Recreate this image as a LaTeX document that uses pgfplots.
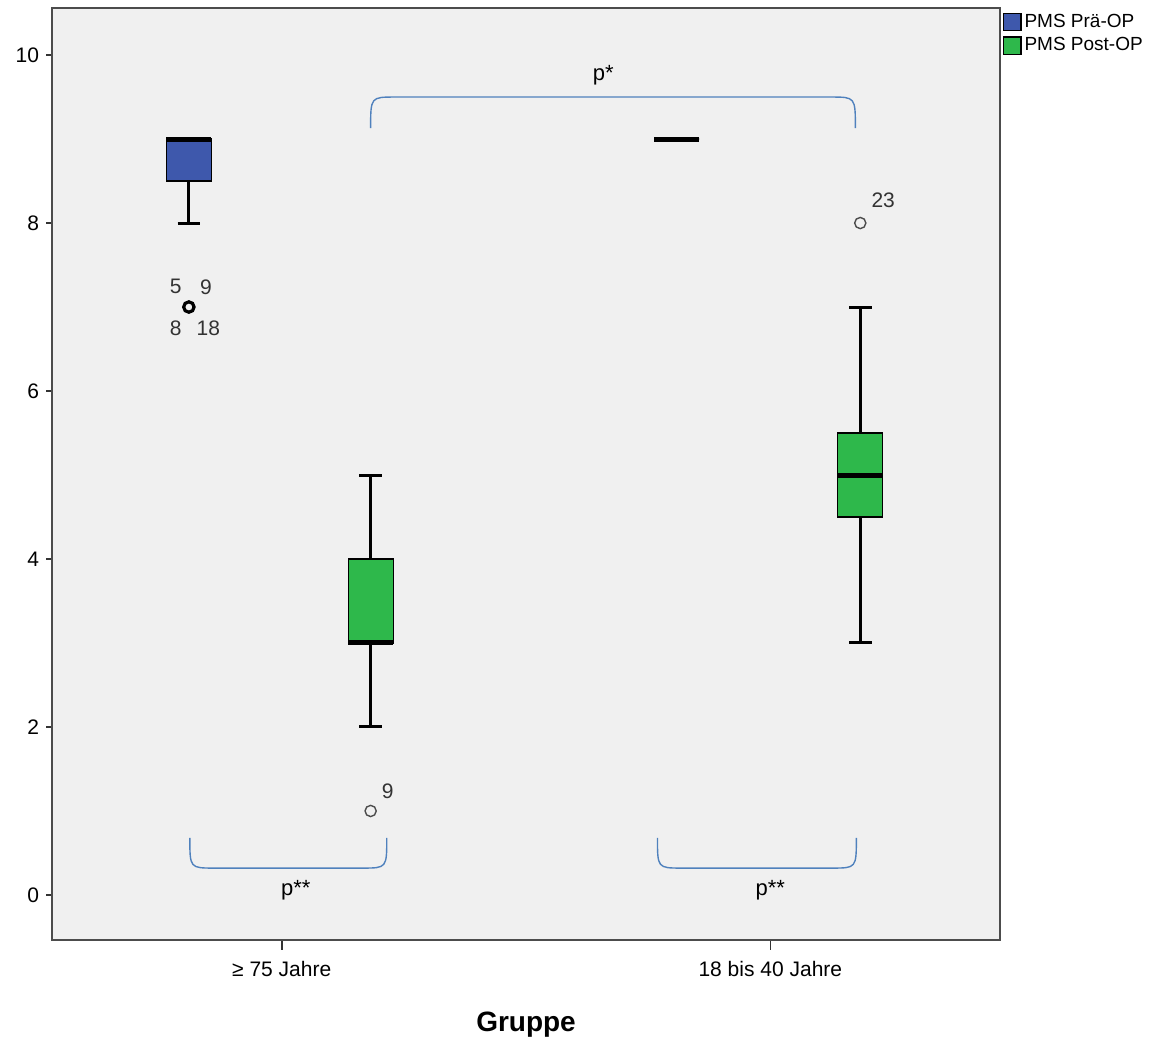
\documentclass[border=0pt]{standalone}
\usepackage{fontspec}
\setmainfont{Liberation Sans}
\usepackage{pgfplots}
\pgfplotsset{compat=1.18}
\usepgfplotslibrary{statistics}
\definecolor{bxblue}{RGB}{62,88,172}
\definecolor{bxgreen}{RGB}{46,184,75}
\definecolor{bgray}{RGB}{240,240,240}
\definecolor{brk}{RGB}{79,129,189}
\begin{document}
\begin{tikzpicture}
\begin{axis}[
  scale only axis, width=474pt, height=466pt,
  xmin=0.53, xmax=2.47, ymin=-0.536, ymax=10.56,
  axis background/.style={fill=bgray},
  axis line style={draw=black!70, line width=0.8pt},
  xtick={1,2}, xticklabels={≥ 75 Jahre, 18 bis 40 Jahre},
  ytick={0,2,4,6,8,10},
  tick align=outside, xtick pos=bottom, ytick pos=left,
  major tick length=3pt,
  tick style={black!80, line width=0.8pt},
  xtick style={/pgfplots/major tick length=5pt},
  ticklabel style={font=\fontsize{10.5}{12}\selectfont},
  xticklabel style={yshift=-4pt},
  /pgf/number format/assume math mode=true,
  clip=false,
  xlabel={Gruppe},
  xlabel style={font=\fontsize{14}{16}\selectfont\bfseries, at={(axis description cs:0.5,-0.091)}, anchor=center},
  boxplot/draw direction=y,
  boxplot/every whisker/.style={line width=1.5pt},
  boxplot/every median/.style={line width=2.5pt},
  boxplot/every box/.style={line width=0.6pt},
  legend image code/.code={\draw[#1, line width=0.6pt] (0cm,-0.15cm) rectangle (0.3cm,0.15cm);},
  legend style={at={(rel axis cs:1.003,0.997)}, anchor=north west, draw=none, fill=none,
    font=\fontsize{9.5}{11}\selectfont, inner sep=0pt, row sep=0.5pt,
    nodes={inner sep=1.5pt}},
  legend cell align=left,
]
\addlegendimage{draw=black, fill=bxblue}
\addlegendentry{PMS Prä-OP}
\addlegendimage{draw=black, fill=bxgreen}
\addlegendentry{PMS Post-OP}

% >= 75, Prae-OP
\addplot[boxplot prepared={draw position=0.81, lower whisker=8, lower quartile=8.5,
  median=9, upper quartile=9, upper whisker=9, box extend=0.092, whisker extend=0.046},
  draw=black, fill=bxblue, mark=o, mark size=2.6pt, mark options={line width=1.6pt, fill=none}, forget plot]
  table[row sep=\\, y index=0] {data\\ 7\\};
% >= 75, Post-OP
\addplot[boxplot prepared={draw position=1.182, lower whisker=2, lower quartile=3,
  median=3, upper quartile=4, upper whisker=5, box extend=0.092, whisker extend=0.046},
  draw=black, fill=bxgreen, mark=o, mark size=2.8pt, mark options={line width=0.7pt, draw=black!70, fill=none}, forget plot]
  table[row sep=\\, y index=0] {data\\ 1\\};
% 18-40, Prae-OP
\addplot[boxplot prepared={draw position=1.808, lower whisker=9, lower quartile=9,
  median=9, upper quartile=9, upper whisker=9, box extend=0.092, whisker extend=0.046},
  draw=black, fill=bxblue, forget plot]
  coordinates {};
% 18-40, Post-OP
\addplot[boxplot prepared={draw position=2.184, lower whisker=3, lower quartile=4.5,
  median=5, upper quartile=5.5, upper whisker=7, box extend=0.092, whisker extend=0.046},
  draw=black, fill=bxgreen, mark=o, mark size=2.8pt, mark options={line width=0.7pt, draw=black!70, fill=none}, forget plot]
  table[row sep=\\, y index=0] {data\\ 8\\};

% outlier labels
\begin{scope}[every node/.style={font=\fontsize{10.5}{12}\selectfont, text=black!80, inner sep=0pt}]
\node at (axis cs:0.783,7.24) {5};
\node at (axis cs:0.845,7.24) {9};
\node at (axis cs:0.783,6.75) {8};
\node at (axis cs:0.85,6.75) {18};
\node at (axis cs:1.217,1.23) {9};
\node at (axis cs:2.231,8.27) {23};
\end{scope}

% brackets
\draw[brk, line width=0.7pt] (axis cs:1.182,9.13) .. controls (axis cs:1.182,9.5) .. (axis cs:1.232,9.5)
  -- (axis cs:2.124,9.5) .. controls (axis cs:2.174,9.5) .. (axis cs:2.174,9.13);
\draw[brk, line width=0.7pt] (axis cs:0.812,0.68) .. controls (axis cs:0.812,0.32) .. (axis cs:0.862,0.32)
  -- (axis cs:1.165,0.32) .. controls (axis cs:1.215,0.32) .. (axis cs:1.215,0.68);
\draw[brk, line width=0.7pt] (axis cs:1.769,0.68) .. controls (axis cs:1.769,0.32) .. (axis cs:1.819,0.32)
  -- (axis cs:2.126,0.32) .. controls (axis cs:2.176,0.32) .. (axis cs:2.176,0.68);
\begin{scope}[every node/.style={font=\fontsize{11}{13}\selectfont, inner sep=0pt}]
\node at (axis cs:1.658,9.76) {p*};
\node at (axis cs:1.029,0.06) {p**};
\node at (axis cs:2.0,0.06) {p**};
\end{scope}

\path (rel axis cs:-0.0549,-0.1073) rectangle (rel axis cs:1.1846,1.0086);
\end{axis}
\end{tikzpicture}
\end{document}
